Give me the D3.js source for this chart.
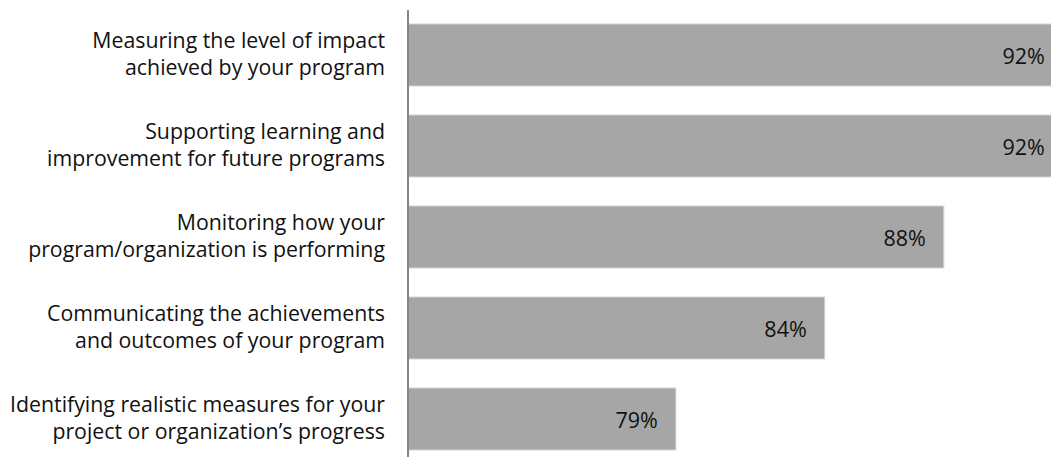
<!DOCTYPE html>
<html>
<head>
<meta charset="utf-8">
<script src="https://cdn.jsdelivr.net/npm/d3@7"></script>
<style>
  html, body { margin: 0; padding: 0; background: #ffffff; }
  svg { display: block; }
</style>
</head>
<body>
<svg id="chart" width="1051" height="457"></svg>
<script>
// Survey responses: share of respondents citing each purpose
const categories = [
  ["Measuring the level of impact", "achieved by your program"],
  ["Supporting learning and", "improvement for future programs"],
  ["Monitoring how your", "program/organization is performing"],
  ["Communicating the achievements", "and outcomes of your program"],
  ["Identifying realistic measures for your", "project or organization\u2019s progress"]
];
const values = [92, 92, 88, 84, 79];
const valueLabels = ["92%", "92%", "88%", "84%", "79%"];
const xDomain = [70, 100];

const width = 1051, height = 457;
const svg = d3.select("#chart");

const x = d3.scaleLinear().domain(xDomain).range([408, 1301]);
const y = d3.scaleBand()
  .domain(d3.range(categories.length))
  .range([-21.5, 495.5])
  .paddingInner(0.3187)
  .paddingOuter(0.5);

const plot = svg.append("g");

// Bars
plot.selectAll("rect.bar")
  .data(values)
  .join("rect")
  .attr("class", "bar")
  .attr("x", x(xDomain[0]))
  .attr("y", (d, i) => y(i))
  .attr("width", d => x(d) - x(xDomain[0]))
  .attr("height", y.bandwidth())
  .attr("fill", "#a6a6a6")
  .attr("stroke", "#d4d4d4")
  .attr("stroke-width", 1);

// Value labels inside the bar ends
plot.selectAll("text.val")
  .data(values)
  .join("text")
  .attr("class", "val")
  .attr("x", d => x(d) - 18)
  .attr("y", (d, i) => y(i) + y.bandwidth() / 2 + 9)
  .attr("text-anchor", "end")
  .attr("font-family", "'Open Sans', sans-serif")
  .attr("font-size", 21.5)
  .attr("fill", "#111111")
  .text((d, i) => valueLabels[i]);

// Vertical category axis line
svg.append("line")
  .attr("x1", x(xDomain[0]))
  .attr("x2", x(xDomain[0]))
  .attr("y1", 10)
  .attr("y2", height)
  .attr("stroke", "#858585")
  .attr("stroke-width", 2);

// Two-line category labels, right-aligned against the axis
const labels = svg.selectAll("text.cat")
  .data(categories)
  .join("text")
  .attr("class", "cat")
  .attr("text-anchor", "end")
  .attr("font-family", "'Open Sans', sans-serif")
  .attr("font-size", 21.3)
  .attr("fill", "#111111");

labels.selectAll("tspan")
  .data((d, i) => d.map((line, j) => ({ line, j, i })))
  .join("tspan")
  .attr("x", 385)
  .attr("y", d => y(d.i) + y.bandwidth() / 2 + (d.j === 0 ? -7 : 20))
  .text(d => d.line);
</script>
</body>
</html>
